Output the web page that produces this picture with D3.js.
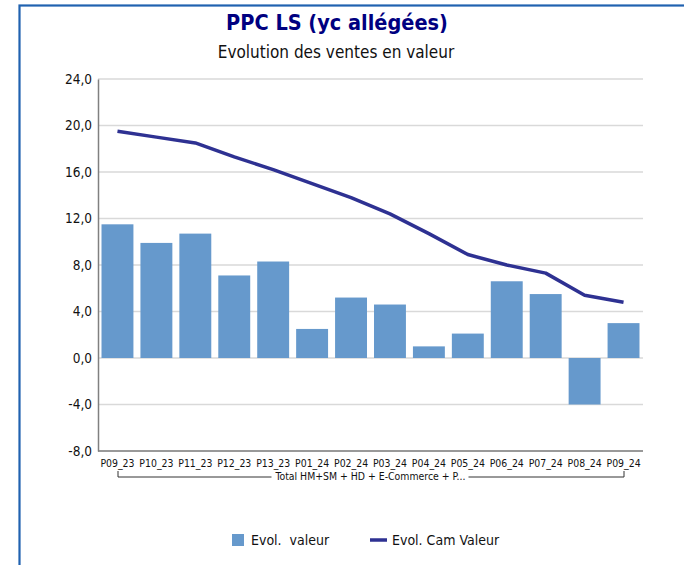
<!DOCTYPE html>
<html><head><meta charset="utf-8">
<script src="https://cdn.jsdelivr.net/npm/d3@7"></script>
<style>
html,body{margin:0;padding:0;background:#fff;}
text{font-family:"DejaVu Sans Condensed","DejaVu Sans",sans-serif;}
</style></head>
<body><svg id="c" width="684" height="565"></svg>
<script>
const categories = ["P09_23","P10_23","P11_23","P12_23","P13_23","P01_24","P02_24","P03_24","P04_24","P05_24","P06_24","P07_24","P08_24","P09_24"];
const evolValeur = [11.5, 9.9, 10.7, 7.1, 8.3, 2.5, 5.2, 4.6, 1.0, 2.1, 6.6, 5.5, -4.0, 3.0];
const evolCamValeur = [19.5, 19.0, 18.5, 17.3, 16.2, 15.0, 13.8, 12.4, 10.7, 8.9, 8.0, 7.3, 5.4, 4.8];
const yTicks = [-8, -4, 0, 4, 8, 12, 16, 20, 24];
const groupLabel = "Total HM+SM + HD + E-Commerce + P...";
const title = "PPC LS (yc allégées)";
const subtitle = "Evolution des ventes en valeur";
const seriesNames = ["Evol.  valeur", "Evol. Cam Valeur"];

const svg = d3.select("#c");
const L = 98, R = 643, T = 79, B = 451;
const barColor = "#6699CC", lineColor = "#2E3192";

// frame
svg.append("rect").attr("x",19.5).attr("y",5.5).attr("width",700).attr("height",600)
  .attr("fill","none").attr("stroke","#2062B0").attr("stroke-width",2.2);

svg.append("text").attr("x",337).attr("y",30).attr("text-anchor","middle")
  .attr("font-size",21.5).attr("font-weight","bold").attr("fill","#000080").text(title);
svg.append("text").attr("x",336).attr("y",58).attr("text-anchor","middle")
  .attr("font-size",17).attr("fill","#111").text(subtitle);

const x = d3.scaleBand().domain(categories).range([L, R]).paddingInner(0.18).paddingOuter(0.09);
const y = d3.scaleLinear().domain([-8, 24]).range([B, T]);

// grid
svg.append("g").selectAll("line").data(yTicks).join("line")
  .attr("x1",L).attr("x2",R).attr("y1",d=>y(d)).attr("y2",d=>y(d))
  .attr("stroke","#D9D9D9").attr("stroke-width",1.3);

// y axis
const ya = svg.append("g").attr("transform",`translate(${L},0)`)
  .call(d3.axisLeft(y).tickValues(yTicks).tickSize(0).tickPadding(6)
  .tickFormat(d=>d3.format(".1f")(d).replace(".",",").replace("−","-")));
ya.select(".domain").attr("stroke","#808080").attr("stroke-width",1.5);
ya.selectAll("text").attr("font-size",13.5).attr("fill","#111").attr("font-family","DejaVu Sans Condensed");

// bars
svg.append("g").selectAll("rect").data(evolValeur).join("rect")
  .attr("x",(d,i)=>x(categories[i])).attr("width",x.bandwidth())
  .attr("y",d=>y(Math.max(0,d))).attr("height",d=>Math.abs(y(d)-y(0)))
  .attr("fill",barColor);

// x axis bottom line
svg.append("line").attr("x1",L).attr("x2",R).attr("y1",B).attr("y2",B)
  .attr("stroke","#808080").attr("stroke-width",1.5);

// line
const line = d3.line().x((d,i)=>x(categories[i])+x.bandwidth()/2).y(d=>y(d));
svg.append("path").datum(evolCamValeur).attr("d",line).attr("fill","none")
  .attr("stroke",lineColor).attr("stroke-width",3.5).attr("stroke-linejoin","round");

// category labels
const xa = svg.append("g").attr("transform",`translate(0,${B})`)
  .call(d3.axisBottom(x).tickSize(0).tickPadding(9));
xa.select(".domain").remove();
xa.selectAll("text").attr("font-size",10.4).attr("fill","#111").attr("font-family","DejaVu Sans Condensed");

// group label with bracket
const gx1 = 118, gx2 = 624, gy = 477;
const gl = svg.append("text").attr("x",(x(categories[0])+x(categories[13])+x.bandwidth())/2).attr("y",480)
  .attr("text-anchor","middle").attr("font-size",10.4).attr("fill","#111").text(groupLabel);
const bb = gl.node().getBBox();
svg.append("path").attr("d",`M${gx1},${gy-6}V${gy}H${bb.x-3}M${bb.x+bb.width+3},${gy}H${gx2}V${gy-6}`)
  .attr("fill","none").attr("stroke","#333").attr("stroke-width",1);

// legend
svg.append("rect").attr("x",232).attr("y",534).attr("width",12).attr("height",12).attr("fill",barColor);
svg.append("text").attr("x",251).attr("y",545).attr("font-size",14).attr("fill","#111").attr("xml:space","preserve").text(seriesNames[0]);
svg.append("line").attr("x1",370).attr("x2",387).attr("y1",540).attr("y2",540).attr("stroke",lineColor).attr("stroke-width",3.5);
svg.append("text").attr("x",392).attr("y",545).attr("font-size",14).attr("fill","#111").text(seriesNames[1]);
</script></body></html>
